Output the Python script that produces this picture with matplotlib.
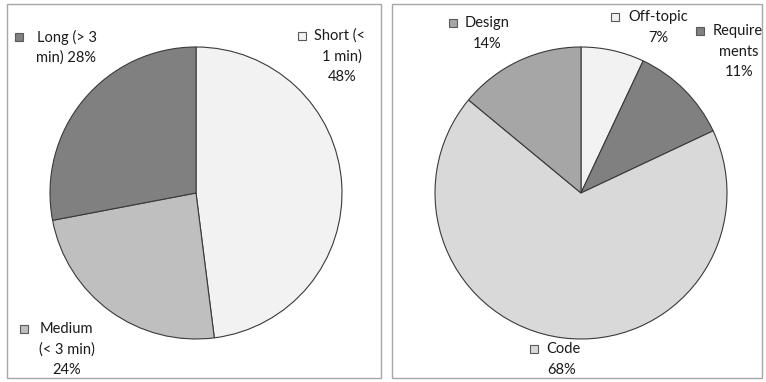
import matplotlib
matplotlib.use("Agg")
import matplotlib.pyplot as plt
from matplotlib.patches import Rectangle

# Discussion duration split
duration_labels = ["Short (<\n1 min)", "Medium\n(< 3 min)", "Long (> 3\nmin)"]
duration_values = [48, 24, 28]
duration_colors = ["#f2f2f2", "#bfbfbf", "#808080"]

# Discussion topic split
topic_labels = ["Off-topic", "Require\nments", "Code", "Design"]
topic_values = [7, 11, 68, 14]
topic_colors = ["#f2f2f2", "#808080", "#d9d9d9", "#a6a6a6"]

W, H = 766, 382
fig = plt.figure(figsize=(W / 100, H / 100), dpi=100)
ax = fig.add_axes([0, 0, 1, 1])

plt.rcParams["font.family"] = ["Lato", "DejaVu Sans"]
FS = 10.5
TXT = "#1a1a1a"


def Y(y):
    return H - y


wp = dict(edgecolor="#3a3a3a", linewidth=0.8)
ax.pie(duration_values, colors=duration_colors, startangle=90, counterclock=False,
       center=(196, Y(193)), radius=146, wedgeprops=wp)
ax.pie(topic_values, colors=topic_colors, startangle=90, counterclock=False,
       center=(581, Y(193)), radius=146, wedgeprops=wp)

# panel frames
for x0, x1 in [(7, 381), (392, 762)]:
    ax.add_patch(Rectangle((x0, Y(378)), x1 - x0, 374, fill=False,
                           edgecolor="#a6a6a6", linewidth=1.0))


def marker(x, y, color):
    ax.add_patch(Rectangle((x - 4, Y(y) - 4), 8, 8, facecolor=color,
                           edgecolor="#595959", linewidth=0.8, zorder=5))


def label(lines, first_x, first_y, centre_x, color, marker_x, first_align="left"):
    marker(marker_x, first_y, color)
    ax.text(first_x, Y(first_y), lines[0], ha=first_align, va="center",
            fontsize=FS, color=TXT)
    for i, ln in enumerate(lines[1:], start=1):
        ax.text(centre_x, Y(first_y + 20.5 * i), ln, ha="center", va="center",
                fontsize=FS, color=TXT)


def split(lbl, v, joined=False):
    parts = lbl.split("\n")
    if joined:
        parts[-1] = parts[-1] + f" {v}%"
    else:
        parts.append(f"{v}%")
    return parts


# left pie labels
label(split(duration_labels[2], duration_values[2], joined=True), 37, 37, 66,
      duration_colors[2], 19)
label(split(duration_labels[0], duration_values[0]), 314, 36, 342,
      duration_colors[0], 302)
label(split(duration_labels[1], duration_values[1]), 40, 329, 67,
      duration_colors[1], 24)

# right pie labels
label(split(topic_labels[3], topic_values[3]), 465, 23, 487,
      topic_colors[3], 453)
label(split(topic_labels[0], topic_values[0]), 628, 17, 658,
      topic_colors[0], 615)
label(split(topic_labels[1], topic_values[1]), 713, 31, 739,
      topic_colors[1], 700)
label(split(topic_labels[2], topic_values[2]), 546, 349, 562,
      topic_colors[2], 534)

ax.set_xlim(0, W)
ax.set_ylim(0, H)
ax.set_aspect("equal")
ax.axis("off")
fig.savefig("out.png", dpi=100, facecolor="white")
